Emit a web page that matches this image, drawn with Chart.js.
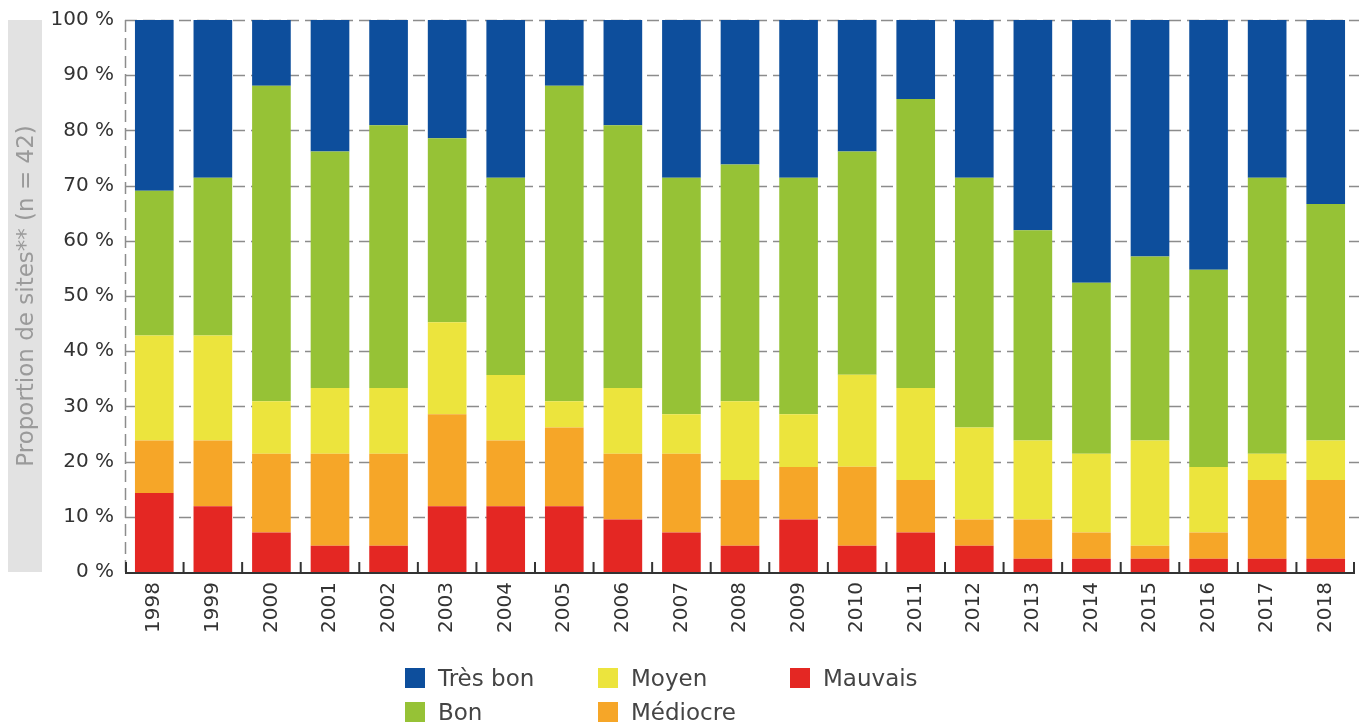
<!DOCTYPE html>
<html>
<head>
<meta charset="utf-8">
<script src="https://cdn.jsdelivr.net/npm/chart.js@4/dist/chart.umd.min.js"></script>
<style>
  html, body { margin: 0; padding: 0; background: #fff; }
  #wrap { position: relative; width: 1364px; height: 722px; overflow: hidden; }
  #c { position: absolute; left: 0; top: 0; }
  .leg { position: absolute; font-family: "DejaVu Sans", sans-serif; font-size: 23px; color: #444; display: flex; align-items: center; white-space: nowrap; height: 24px; }
  .leg span.sw { display: inline-block; width: 20px; height: 20px; margin-right: 13px; }
</style>
</head>
<body>
<div id="wrap">
  <canvas id="c" width="1364" height="722"></canvas>
</div>
<script>
const years = ['1998','1999','2000','2001','2002','2003','2004','2005','2006','2007','2008','2009','2010','2011','2012','2013','2014','2015','2016','2017','2018'];
const yTicks = [0,10,20,30,40,50,60,70,80,90,100];
const yTitle = 'Proportion de sites** (n = 42)';
const seriesNames = ['Mauvais','Médiocre','Moyen','Bon','Très bon'];
const seriesColors = ['#e42723','#f6a628','#ece43d','#96c236','#0d4e9c'];

const mauvais  = [14.29,11.90,7.14,4.76,4.76,11.90,11.90,11.90,9.52,7.14,4.76,9.52,4.76,7.14,4.76,2.38,2.38,2.38,2.38,2.38,2.38];
const mediocre = [9.52,11.90,14.29,16.67,16.67,16.67,11.90,14.29,11.90,14.29,11.90,9.52,14.29,9.52,4.76,7.14,4.76,2.38,4.76,14.29,14.29];
const moyen    = [19.05,19.05,9.52,11.90,11.90,16.67,11.90,4.76,11.90,7.14,14.29,9.52,16.67,16.67,16.67,14.29,14.29,19.05,11.90,4.76,7.14];
const bon      = [26.19,28.57,57.14,42.86,47.62,33.33,35.71,57.14,47.62,42.86,42.86,42.86,40.48,52.38,45.24,38.10,30.95,33.33,35.71,50.00,42.86];
const tresBon  = [30.95,28.57,11.90,23.81,19.05,21.43,28.57,11.90,19.05,28.57,26.19,28.57,23.81,14.29,28.57,38.10,47.62,42.86,45.24,28.57,33.33];

const seriesData = [mauvais, mediocre, moyen, bon, tresBon];

// HTML legend (3 columns x 2 rows)
const legendLayout = [
  {name:'Très bon', x:405, y:666},
  {name:'Bon',      x:405, y:700},
  {name:'Moyen',    x:598, y:666},
  {name:'Médiocre', x:598, y:700},
  {name:'Mauvais',  x:790, y:666}
];
const wrap = document.getElementById('wrap');
legendLayout.forEach(l => {
  const idx = seriesNames.indexOf(l.name);
  const d = document.createElement('div');
  d.className = 'leg';
  d.style.left = l.x + 'px';
  d.style.top = l.y + 'px';
  d.innerHTML = '<span class="sw" style="background:' + seriesColors[idx] + '"></span>' + l.name;
  wrap.appendChild(d);
});

const decor = {
  id: 'decor',
  beforeDraw(chart) {
    const {ctx, chartArea} = chart;
    ctx.save();
    ctx.fillStyle = '#e2e2e2';
    ctx.fillRect(8, chartArea.top, 34, chartArea.bottom - chartArea.top);
    ctx.translate(26, (chartArea.top + chartArea.bottom) / 2);
    ctx.rotate(-Math.PI / 2);
    ctx.fillStyle = '#9a9a9a';
    ctx.font = '23px "DejaVu Sans", sans-serif';
    ctx.textAlign = 'center';
    ctx.textBaseline = 'middle';
    ctx.fillText(yTitle, 0, 1);
    ctx.restore();
  },
  beforeDatasetsDraw(chart) {
    const {ctx, chartArea} = chart;
    const ys = chart.scales.y;
    ctx.save();
    ctx.strokeStyle = '#8c8c8c';
    ctx.lineWidth = 1.5;
    ctx.setLineDash([12, 6]);
    yTicks.forEach(v => {
      if (v === 0) return;
      const y = Math.round(ys.getPixelForValue(v)) + 0.5;
      ctx.beginPath();
      ctx.moveTo(chartArea.left, y);
      ctx.lineTo(chartArea.right + 4, y);
      ctx.stroke();
    });
    // dashed left axis
    ctx.beginPath();
    ctx.moveTo(chartArea.left + 0.5, chartArea.top);
    ctx.lineTo(chartArea.left + 0.5, chartArea.bottom);
    ctx.stroke();
    ctx.restore();
  },
  afterDraw(chart) {
    const {ctx, chartArea} = chart;
    const xs = chart.scales.x;
    ctx.save();
    // bottom axis line
    ctx.strokeStyle = '#333';
    ctx.lineWidth = 2;
    ctx.beginPath();
    ctx.moveTo(chartArea.left, chartArea.bottom + 1);
    ctx.lineTo(chartArea.right, chartArea.bottom + 1);
    ctx.stroke();
    // inner ticks at category boundaries
    const n = years.length;
    for (let i = 0; i <= n; i++) {
      let x;
      if (i === 0) x = chartArea.left + 1;
      else if (i === n) x = chartArea.right - 1;
      else x = (xs.getPixelForValue(i - 1) + xs.getPixelForValue(i)) / 2;
      ctx.beginPath();
      ctx.moveTo(x, chartArea.bottom + 1);
      ctx.lineTo(x, chartArea.bottom - 10);
      ctx.stroke();
    }
    ctx.restore();
  }
};

new Chart(document.getElementById('c'), {
  type: 'bar',
  data: {
    labels: years,
    datasets: seriesNames.map((name, i) => ({
      label: name,
      data: seriesData[i],
      backgroundColor: seriesColors[i],
      borderWidth: 0,
      barPercentage: 0.66,
      categoryPercentage: 1.0,
      stack: 's'
    }))
  },
  options: {
    responsive: false,
    animation: false,
    layout: { padding: { left: 0, right: 9, top: 20, bottom: 0 } },
    plugins: { legend: { display: false }, tooltip: { enabled: false } },
    scales: {
      x: {
        stacked: true,
        grid: { display: false },
        border: { display: false },
        ticks: {
          minRotation: 90, maxRotation: 90,
          color: '#333',
          padding: 2,
          font: { family: '"DejaVu Sans", sans-serif', size: 20 }
        },
        afterFit(scale) { scale.height = 150; }
      },
      y: {
        stacked: true,
        min: 0, max: 100,
        afterBuildTicks(scale) { scale.ticks = yTicks.map(v => ({ value: v })); },
        grid: { display: false, drawTicks: false },
        border: { display: false },
        ticks: {
          color: '#333',
          padding: 11,
          font: { family: '"DejaVu Sans", sans-serif', size: 20 },
          callback: v => v + ' %'
        },
        afterFit(scale) { scale.width = 125; scale.paddingTop = 0; scale.paddingBottom = 0; }
      }
    }
  },
  plugins: [decor]
});
</script>
</body>
</html>
